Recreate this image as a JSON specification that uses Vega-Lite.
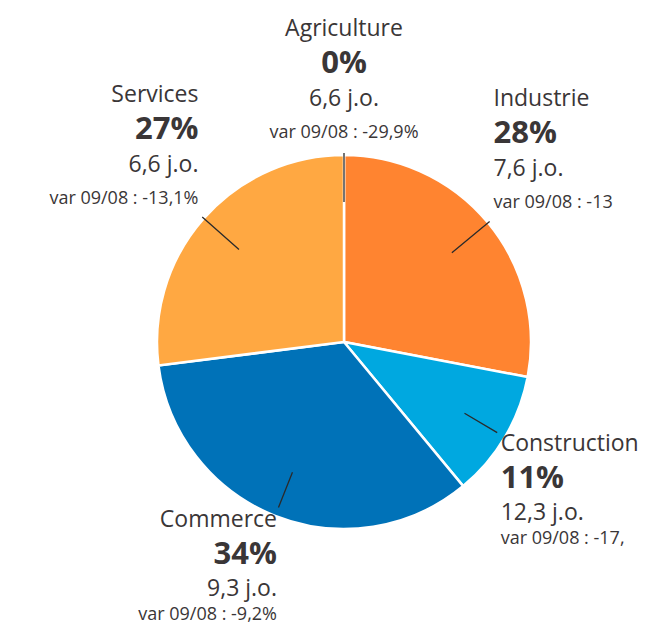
{
  "$schema": "https://vega.github.io/schema/vega-lite/v6.json",
  "width": 602,
  "height": 574,
  "autosize": {"type": "none"},
  "padding": {"left": 43, "top": 55, "right": 0, "bottom": 0},
  "background": "white",
  "view": {"stroke": null},
  "config": {"text": {"font": "Open Sans", "color": "#3a3637", "baseline": "alphabetic"}},
  "data": {
    "values": [
      {"secteur": "Agriculture", "ordre": 1, "part": 0.0, "jo": 6.6, "variation": "var 09/08 : -29,9%"},
      {"secteur": "Industrie", "ordre": 2, "part": 0.28, "jo": 7.6, "variation": "var 09/08 : -13"},
      {"secteur": "Construction", "ordre": 3, "part": 0.11, "jo": 12.3, "variation": "var 09/08 : -17,"},
      {"secteur": "Commerce", "ordre": 4, "part": 0.34, "jo": 9.3, "variation": "var 09/08 : -9,2%"},
      {"secteur": "Services", "ordre": 5, "part": 0.27, "jo": 6.6, "variation": "var 09/08 : -13,1%"}
    ]
  },
  "encoding": {
    "theta": {"field": "part", "type": "quantitative", "stack": true, "scale": {"domain": [0, 1]}},
    "order": {"field": "ordre", "type": "quantitative", "sort": "ascending"},
    "detail": {"field": "secteur", "type": "nominal"}
  },
  "layer": [
    {
      "mark": {"type": "arc", "outerRadius": 187, "stroke": "white", "strokeWidth": 2.5},
      "encoding": {
        "color": {
          "field": "secteur",
          "type": "nominal",
          "scale": {
            "domain": ["Agriculture", "Industrie", "Construction", "Commerce", "Services"],
            "range": ["#7a9a3a", "#ff8430", "#00a8e0", "#0072b8", "#ffa842"]
          },
          "legend": null
        }
      }
    },
    {
      "mark": {
        "type": "arc",
        "innerRadius": 140,
        "outerRadius": {"expr": "(datum.part_start + datum.part_end) / 2 < 0.25 || (datum.part_start + datum.part_end) / 2 > 0.75 ? 189 : 178"},
        "padAngle": 3.14159,
        "filled": false,
        "stroke": "#2a2a2a",
        "strokeWidth": 1.3
      }
    },
    {
      "mark": {
        "type": "text",
        "radius": {"expr": "(datum.part_start + datum.part_end) / 2 < 0.25 || (datum.part_start + datum.part_end) / 2 > 0.75 ? 194 : 182"},
        "fontSize": 23,
        "baseline": "alphabetic",
        "align": {"expr": "(datum.part_start + datum.part_end) / 2 < 0.02 || (datum.part_start + datum.part_end) / 2 > 0.98 ? 'center' : ((datum.part_start + datum.part_end) / 2 < 0.5 ? 'left' : 'right')"},
        "dy": {"expr": "(datum.part_start + datum.part_end) / 2 < 0.25 || (datum.part_start + datum.part_end) / 2 > 0.75 ? -112 : 16"}
      },
      "encoding": {"text": {"field": "secteur", "type": "nominal"}}
    },
    {
      "mark": {
        "type": "text",
        "radius": {"expr": "(datum.part_start + datum.part_end) / 2 < 0.25 || (datum.part_start + datum.part_end) / 2 > 0.75 ? 194 : 182"},
        "fontSize": 31,
        "fontWeight": "bold",
        "baseline": "alphabetic",
        "align": {"expr": "(datum.part_start + datum.part_end) / 2 < 0.02 || (datum.part_start + datum.part_end) / 2 > 0.98 ? 'center' : ((datum.part_start + datum.part_end) / 2 < 0.5 ? 'left' : 'right')"},
        "dy": {"expr": "(datum.part_start + datum.part_end) / 2 < 0.25 || (datum.part_start + datum.part_end) / 2 > 0.75 ? -75 : 53"}
      },
      "encoding": {"text": {"field": "part", "type": "quantitative", "format": ".0%"}}
    },
    {
      "mark": {
        "type": "text",
        "radius": {"expr": "(datum.part_start + datum.part_end) / 2 < 0.25 || (datum.part_start + datum.part_end) / 2 > 0.75 ? 194 : 182"},
        "fontSize": 23,
        "baseline": "alphabetic",
        "text": {"expr": "replace(format(datum.jo, '.1f'), '.', ',') + ' j.o.'"},
        "align": {"expr": "(datum.part_start + datum.part_end) / 2 < 0.02 || (datum.part_start + datum.part_end) / 2 > 0.98 ? 'center' : ((datum.part_start + datum.part_end) / 2 < 0.5 ? 'left' : 'right')"},
        "dy": {"expr": "(datum.part_start + datum.part_end) / 2 < 0.25 || (datum.part_start + datum.part_end) / 2 > 0.75 ? -42 : 85"}
      }
    },
    {
      "mark": {
        "type": "text",
        "radius": {"expr": "(datum.part_start + datum.part_end) / 2 < 0.25 || (datum.part_start + datum.part_end) / 2 > 0.75 ? 194 : 182"},
        "fontSize": 18,
        "baseline": "alphabetic",
        "align": {"expr": "(datum.part_start + datum.part_end) / 2 < 0.02 || (datum.part_start + datum.part_end) / 2 > 0.98 ? 'center' : ((datum.part_start + datum.part_end) / 2 < 0.5 ? 'left' : 'right')"},
        "dy": {"expr": "(datum.part_start + datum.part_end) / 2 < 0.25 || (datum.part_start + datum.part_end) / 2 > 0.75 ? -10 : 109"}
      },
      "encoding": {"text": {"field": "variation", "type": "nominal"}}
    }
  ]
}
